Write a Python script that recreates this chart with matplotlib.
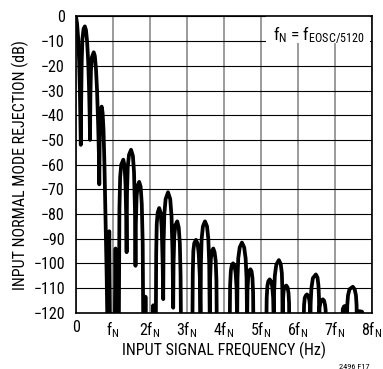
import matplotlib
matplotlib.use('Agg')
import matplotlib.pyplot as plt
from matplotlib import font_manager
from matplotlib.patches import Rectangle

# pick a narrow sans face if the machine has one
fonts = font_manager.fontManager.ttflist
names = {f.name for f in fonts}
family = 'DejaVu Sans'
stretch = 'normal'
for cand in ['Liberation Sans Narrow', 'Roboto Condensed', 'Open Sans Condensed',
             'Noto Sans Condensed', 'DejaVu Sans Condensed']:
    if cand in names:
        family = cand
        break
else:
    for cand in ['Liberation Sans', 'Noto Sans', 'Roboto', 'Open Sans', 'DejaVu Sans']:
        if any(f.name == cand and f.stretch in ('condensed', 'semi-condensed', 'extra-condensed', 600, 700, 500)
               for f in fonts):
            family = cand
            stretch = 'condensed'
            break
plt.rcParams['font.family'] = [family, 'DejaVu Sans']
plt.rcParams['font.stretch'] = stretch
plt.rcParams['mathtext.default'] = 'regular'

# rejection curve, x in units of fN, y in dB
# (-125 = null running off the bottom of the scale)
freq = [
    0.000, 0.030, 0.060, 0.085, 0.105, 0.120, 0.130,
    0.140, 0.155, 0.175, 0.205, 0.240, 0.270, 0.300, 0.330, 0.355, 0.370, 0.380,
    0.390, 0.405, 0.430, 0.480, 0.510, 0.540, 0.570, 0.600, 0.620, 0.630,
    0.640, 0.655, 0.675, 0.695, 0.720, 0.745, 0.770, 0.800, 0.830, 0.850,
    0.880, 0.900, 0.920,
    1.050, 1.070, 1.090,
    1.160, 1.175, 1.195, 1.225, 1.280, 1.315, 1.340, 1.360, 1.370,
    1.380, 1.400, 1.435, 1.490, 1.540, 1.570, 1.595, 1.610,
    1.620, 1.640, 1.670, 1.710, 1.750, 1.780, 1.805, 1.820,
    1.865, 1.880, 1.895,
    2.075, 2.090, 2.105,
    2.160, 2.170, 2.185, 2.210, 2.250, 2.290, 2.320, 2.345, 2.360,
    2.370, 2.390, 2.425, 2.490, 2.550, 2.585, 2.612, 2.630,
    2.640, 2.660, 2.690, 2.740, 2.780, 2.810, 2.830, 2.840,
    3.150, 3.160, 3.175, 3.200, 3.245, 3.290, 3.320, 3.350, 3.370,
    3.380, 3.400, 3.435, 3.490, 3.545, 3.580, 3.605, 3.620,
    3.630, 3.650, 3.680, 3.715, 3.750, 3.780, 3.800, 3.810,
    4.160, 4.170, 4.190, 4.215, 4.250, 4.290, 4.320, 4.345, 4.360,
    4.370, 4.390, 4.430, 4.490, 4.550, 4.590, 4.615, 4.630,
    4.640, 4.660, 4.690, 4.720, 4.750, 4.775, 4.792, 4.800,
    5.150, 5.160, 5.180, 5.205, 5.240, 5.280, 5.310, 5.335, 5.350,
    5.360, 5.380, 5.420, 5.490, 5.540, 5.570, 5.582, 5.590,
    5.600, 5.620, 5.650, 5.690, 5.725, 5.750, 5.765, 5.770,
    6.160, 6.170, 6.190, 6.220, 6.250, 6.285, 6.315, 6.335, 6.340,
    6.350, 6.370, 6.410, 6.490, 6.535, 6.560, 6.575, 6.580,
    6.590, 6.615, 6.650, 6.680, 6.715, 6.740, 6.755, 6.760,
    7.200, 7.220, 7.250, 7.270, 7.295, 7.315, 7.330,
    7.340, 7.360, 7.400, 7.490, 7.540, 7.575, 7.592, 7.600,
    7.620, 7.680, 7.740, 7.800,
    8.000,
]
rejection = [
    0, -3, -9, -18, -30, -42, -52,
    -35, -18, -9, -5, -4, -5.5, -10, -18, -30, -40, -50,
    -32, -22, -16.5, -14.5, -16, -21, -30, -44, -56, -68,
    -52, -42, -37.5, -36.5, -39, -46, -60, -82, -105, -125,
    -125, -87, -125,
    -125, -94, -125,
    -125, -78, -65, -60, -58, -60.5, -68, -82, -95.5,
    -72, -61, -56, -54, -56.5, -63, -78, -101,
    -84, -73, -68.5, -67, -69, -76, -92, -125,
    -125, -113.5, -125,
    -125, -117, -125,
    -125, -96, -84, -79.5, -77.6, -79.5, -86, -100, -114.5,
    -92, -80, -74, -71.2, -74, -81, -96, -118,
    -100, -89, -84.5, -83, -85.5, -92, -105, -125,
    -125, -104, -95, -91.8, -90.5, -92, -96, -105, -125,
    -100, -90, -85, -83, -85, -90, -100, -125,
    -106, -98, -95, -94, -95.5, -99, -107, -125,
    -125, -109, -103, -100.8, -100, -101, -104, -110, -125,
    -106, -98, -93.5, -91.6, -93.5, -98, -106, -125,
    -111, -105.5, -103, -102.4, -103.2, -106, -112, -125,
    -125, -114, -109, -107.2, -106.5, -107.3, -109.5, -114, -125,
    -112, -105, -100.5, -98.7, -100.3, -104, -110, -125,
    -115, -111, -109.5, -109, -109.8, -112, -116, -125,
    -125, -117, -114, -113, -112.6, -113.2, -115, -118, -125,
    -116, -110, -106, -104.5, -105.8, -109, -114, -125,
    -118, -115.8, -114.9, -114.6, -115.2, -117, -119, -125,
    -125, -118.5, -117.5, -117.3, -117.6, -118.8, -125,
    -117, -113, -110.5, -109.5, -110.5, -113, -117, -125,
    -119.6, -119.4, -119.6, -125,
    -125,
]

x_ticks = [0, 1, 2, 3, 4, 5, 6, 7, 8]
x_labels = ['0', '$f_N$', '$2f_N$', '$3f_N$', '$4f_N$', '$5f_N$', '$6f_N$', '$7f_N$', '$8f_N$']
y_ticks = [0, -10, -20, -30, -40, -50, -60, -70, -80, -90, -100, -110, -120]
y_labels = ['0'] + ['\u2212%d' % (-v) for v in y_ticks[1:]]

narrow = stretch == 'condensed' or family != 'DejaVu Sans'
fs = 11.5 if narrow else 9.5
fs_note = 12.5 if narrow else 10

fig = plt.figure(figsize=(3.83, 3.69), dpi=100)
ax = fig.add_axes([0.1984, 0.1526, 0.772, 0.8027])

ax.set_xlim(0, 8)
ax.set_ylim(-120, 0)

for v in x_ticks:
    ax.axvline(v, color='0.5', lw=1.1, zorder=1)
for v in y_ticks:
    ax.axhline(v, color='black', lw=0.8, zorder=1)

# white box behind the note
ax.add_patch(Rectangle((5.13, -10.8), 2.82, 10.8, facecolor='white', edgecolor='none', zorder=2))
ax.text(6.57, -7.3, '$f_N$ = $f_{EOSC/5120}$', ha='center', va='center', fontsize=fs_note, zorder=3)

ax.plot(freq, rejection, color='black', lw=2.7, solid_joinstyle='round', zorder=4)

ax.set_xticks(x_ticks)
ax.set_xticklabels(x_labels, fontsize=fs)
ax.set_yticks(y_ticks)
ax.set_yticklabels(y_labels, fontsize=fs)
ax.tick_params(length=0)
ax.tick_params(axis='y', pad=8)
ax.tick_params(axis='x', pad=5)

ax.set_xlabel('INPUT SIGNAL FREQUENCY (Hz)', fontsize=fs, labelpad=1)
ax.set_ylabel('INPUT NORMAL MODE REJECTION (dB)', fontsize=fs, labelpad=3)

for s in ax.spines.values():
    s.set_linewidth(1.2)
    s.set_zorder(5)

fig.text(0.965, 0.006, '2496 F17', ha='right', va='center', fontsize=6)

fig.savefig('out.png', dpi=100)
